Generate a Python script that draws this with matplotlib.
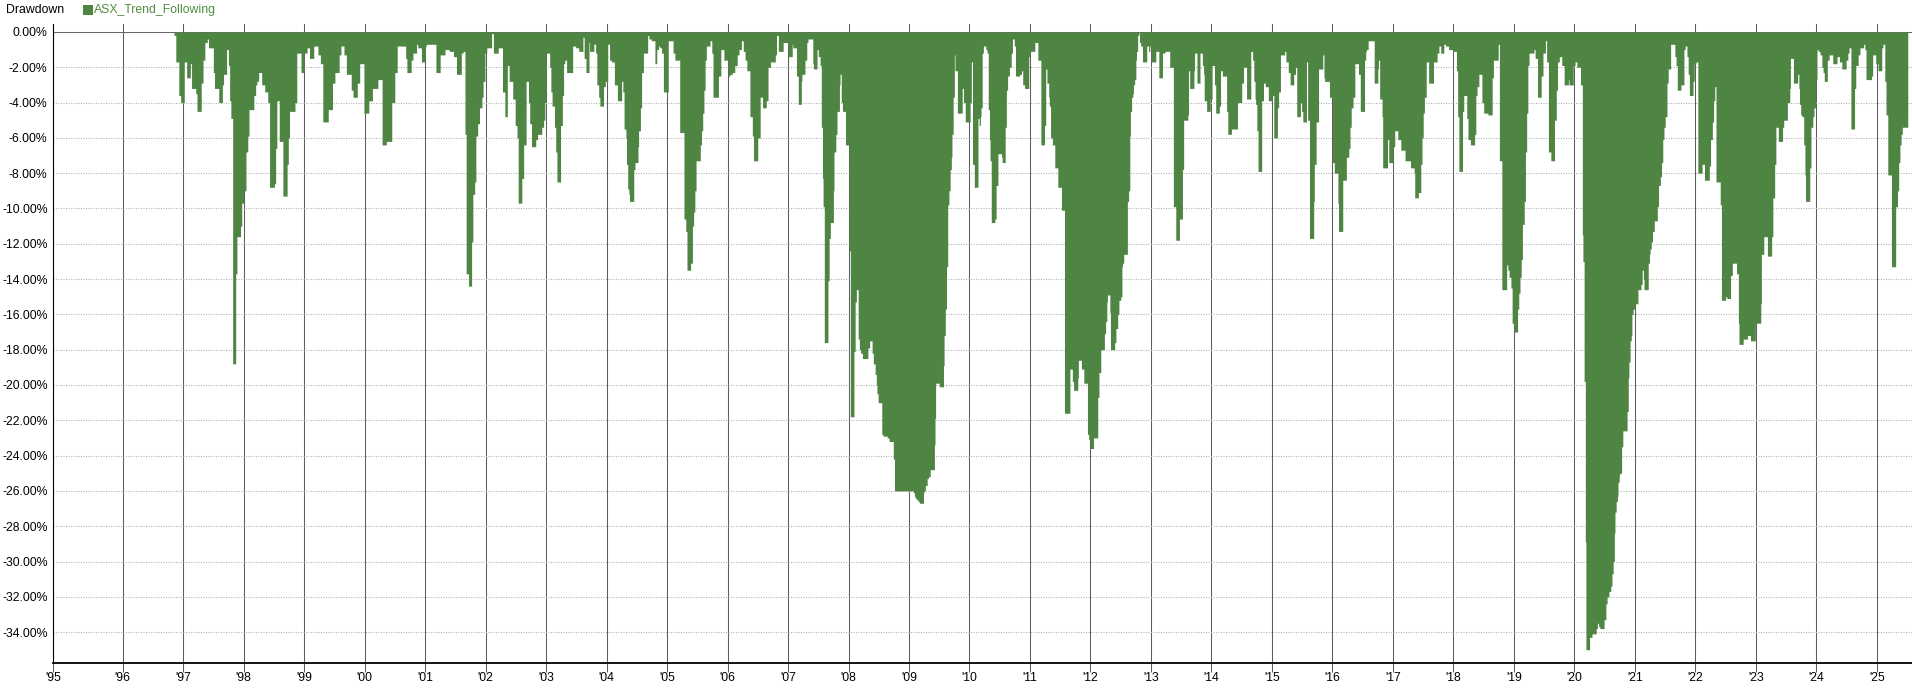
import numpy as np
import matplotlib
matplotlib.use("Agg")
import matplotlib.pyplot as plt
from matplotlib.patches import Rectangle
from matplotlib.ticker import FixedLocator, FuncFormatter

# drawdown of ASX_Trend_Following, step values (start of each step, decimal year)
dd_date = [
    1996.85, 1996.88, 1996.93, 1996.96,
    1997.02, 1997.06, 1997.12, 1997.14, 1997.21, 1997.23, 1997.30, 1997.33, 1997.36, 1997.40, 1997.42, 1997.50, 1997.52,
    1997.59, 1997.65, 1997.67, 1997.72, 1997.75, 1997.77, 1997.79, 1997.82, 1997.87, 1997.89, 1997.95, 1997.97,
    1998.00, 1998.04, 1998.07, 1998.09, 1998.17, 1998.20, 1998.22, 1998.25, 1998.30, 1998.35, 1998.40, 1998.43, 1998.51,
    1998.53, 1998.55, 1998.59, 1998.65, 1998.72, 1998.74, 1998.76, 1998.85, 1998.88, 1998.95,
    1999.00, 1999.05, 1999.09, 1999.16, 1999.23, 1999.27, 1999.31, 1999.40, 1999.47, 1999.51, 1999.58, 1999.61, 1999.66,
    1999.70, 1999.78, 1999.81, 1999.88, 1999.92, 1999.99,
    2000.07, 2000.13, 2000.22, 2000.29, 2000.36, 2000.45, 2000.50, 2000.54, 2000.68, 2000.70, 2000.77, 2000.80, 2000.86,
    2000.88, 2000.94,
    2001.00, 2001.02, 2001.18, 2001.25, 2001.33, 2001.40, 2001.47, 2001.52, 2001.60, 2001.63, 2001.66, 2001.68, 2001.72,
    2001.77, 2001.79, 2001.82, 2001.84, 2001.87, 2001.90, 2001.94, 2001.96, 2001.99,
    2002.02, 2002.10, 2002.13, 2002.21, 2002.28, 2002.32, 2002.36, 2002.39, 2002.45, 2002.49, 2002.52, 2002.54, 2002.60,
    2002.63, 2002.67, 2002.71, 2002.73, 2002.76, 2002.83, 2002.86, 2002.93, 2002.96, 2002.98,
    2003.00, 2003.06, 2003.08, 2003.10, 2003.14, 2003.16, 2003.18, 2003.24, 2003.27, 2003.29, 2003.31, 2003.34, 2003.44,
    2003.49, 2003.54, 2003.61, 2003.63, 2003.66, 2003.71, 2003.72, 2003.79, 2003.82, 2003.84, 2003.87, 2003.89, 2003.95,
    2003.98,
    2004.02, 2004.05, 2004.08, 2004.13, 2004.18, 2004.25, 2004.27, 2004.29, 2004.32, 2004.33, 2004.35, 2004.37, 2004.38,
    2004.45, 2004.47, 2004.52, 2004.53, 2004.56, 2004.58, 2004.61, 2004.68, 2004.70, 2004.74, 2004.80, 2004.83, 2004.86,
    2004.88, 2004.91, 2004.94,
    2005.02, 2005.10, 2005.13, 2005.21, 2005.28, 2005.31, 2005.33, 2005.39, 2005.42, 2005.44, 2005.46, 2005.48, 2005.55,
    2005.57, 2005.59, 2005.61, 2005.63, 2005.65, 2005.71, 2005.74, 2005.76, 2005.85, 2005.89, 2005.94,
    2006.01, 2006.04, 2006.08, 2006.12, 2006.16, 2006.19, 2006.23, 2006.26, 2006.29, 2006.32, 2006.37, 2006.41, 2006.43,
    2006.50, 2006.54, 2006.58, 2006.64, 2006.67, 2006.71, 2006.79, 2006.81, 2006.84, 2006.92,
    2007.00, 2007.07, 2007.08, 2007.14, 2007.17, 2007.22, 2007.23, 2007.28, 2007.31, 2007.33, 2007.41, 2007.42, 2007.48,
    2007.50, 2007.53, 2007.55, 2007.57, 2007.58, 2007.60, 2007.66, 2007.68, 2007.70, 2007.75, 2007.76, 2007.79, 2007.81,
    2007.85, 2007.86, 2007.88, 2007.90, 2007.95,
    2008.01, 2008.03, 2008.09, 2008.11, 2008.13, 2008.16, 2008.18, 2008.20, 2008.23, 2008.32, 2008.35, 2008.39, 2008.41,
    2008.44, 2008.46, 2008.47, 2008.49, 2008.55, 2008.57, 2008.64, 2008.67, 2008.74, 2008.76,
    2009.07, 2009.09, 2009.10, 2009.12, 2009.15, 2009.17, 2009.24, 2009.25, 2009.27, 2009.30, 2009.32, 2009.35, 2009.42,
    2009.43, 2009.44, 2009.50, 2009.57, 2009.58, 2009.60, 2009.62, 2009.64, 2009.66, 2009.68, 2009.70, 2009.71, 2009.73,
    2009.75, 2009.76, 2009.80, 2009.88, 2009.90, 2009.93,
    2010.01, 2010.03, 2010.05, 2010.08, 2010.14, 2010.16, 2010.18, 2010.19, 2010.21, 2010.23, 2010.27, 2010.29, 2010.31,
    2010.33, 2010.34, 2010.36, 2010.42, 2010.44, 2010.47, 2010.53, 2010.54, 2010.59, 2010.61, 2010.63, 2010.66, 2010.69,
    2010.71, 2010.74, 2010.76, 2010.83, 2010.86, 2010.88, 2010.91, 2010.98,
    2011.00, 2011.08, 2011.13, 2011.18, 2011.24, 2011.26, 2011.28, 2011.31, 2011.32, 2011.34, 2011.37, 2011.41, 2011.46,
    2011.52, 2011.57, 2011.66, 2011.70, 2011.72, 2011.79, 2011.80, 2011.85, 2011.89, 2011.95, 2011.97, 2011.99,
    2012.05, 2012.12, 2012.14, 2012.17, 2012.23, 2012.25, 2012.27, 2012.28, 2012.32, 2012.33, 2012.40, 2012.42, 2012.45,
    2012.47, 2012.50, 2012.52, 2012.53, 2012.55, 2012.61, 2012.63, 2012.65, 2012.66, 2012.68, 2012.70, 2012.71, 2012.73,
    2012.75, 2012.76, 2012.78, 2012.80, 2012.81, 2012.83, 2012.86, 2012.93, 2012.96, 2012.98,
    2013.00, 2013.08, 2013.13, 2013.19, 2013.23, 2013.31, 2013.37, 2013.41, 2013.47, 2013.52, 2013.54, 2013.61, 2013.62,
    2013.64, 2013.71, 2013.72, 2013.76, 2013.81, 2013.85, 2013.87, 2013.88, 2013.92, 2013.98,
    2014.01, 2014.05, 2014.07, 2014.13, 2014.15, 2014.18, 2014.25, 2014.27, 2014.33, 2014.43, 2014.50, 2014.53, 2014.58,
    2014.65, 2014.68, 2014.70, 2014.72, 2014.73, 2014.75, 2014.77, 2014.83, 2014.86, 2014.89, 2014.94,
    2015.00, 2015.03, 2015.09, 2015.11, 2015.14, 2015.21, 2015.23, 2015.27, 2015.30, 2015.36, 2015.39, 2015.41, 2015.47,
    2015.49, 2015.51, 2015.57, 2015.59, 2015.62, 2015.69, 2015.70, 2015.73, 2015.77, 2015.84, 2015.86, 2015.87, 2015.95,
    2016.00, 2016.03, 2016.09, 2016.10, 2016.17, 2016.23, 2016.27, 2016.29, 2016.31, 2016.34, 2016.37, 2016.43, 2016.46,
    2016.53, 2016.55, 2016.56, 2016.59, 2016.69, 2016.75, 2016.76, 2016.78, 2016.82, 2016.83, 2016.91, 2016.93,
    2017.00, 2017.03, 2017.08, 2017.13, 2017.20, 2017.29, 2017.35, 2017.36, 2017.42, 2017.46, 2017.48, 2017.50, 2017.52,
    2017.55, 2017.59, 2017.67, 2017.73, 2017.76, 2017.79, 2017.84, 2017.87, 2017.92, 2017.99,
    2018.05, 2018.07, 2018.09, 2018.15, 2018.17, 2018.22, 2018.24, 2018.28, 2018.35, 2018.37, 2018.39, 2018.42, 2018.47,
    2018.50, 2018.57, 2018.64, 2018.66, 2018.74, 2018.76, 2018.80, 2018.88, 2018.90, 2018.92, 2018.95, 2018.97,
    2019.00, 2019.06, 2019.08, 2019.10, 2019.12, 2019.14, 2019.17, 2019.19, 2019.21, 2019.23, 2019.25, 2019.33, 2019.35,
    2019.39, 2019.45, 2019.48, 2019.52, 2019.54, 2019.57, 2019.61, 2019.67, 2019.70, 2019.72, 2019.75, 2019.79, 2019.83,
    2019.90, 2019.91, 2019.98,
    2020.01, 2020.04, 2020.10, 2020.13, 2020.14, 2020.16, 2020.18, 2020.19, 2020.25, 2020.29, 2020.36, 2020.38, 2020.40,
    2020.42, 2020.49, 2020.52, 2020.54, 2020.57, 2020.60, 2020.62, 2020.64, 2020.66, 2020.67, 2020.69, 2020.71, 2020.72,
    2020.74, 2020.75, 2020.78, 2020.80, 2020.87, 2020.89, 2020.90, 2020.92, 2020.94, 2020.95, 2020.97,
    2021.00, 2021.05, 2021.10, 2021.12, 2021.14, 2021.15, 2021.22, 2021.24, 2021.25, 2021.27, 2021.29, 2021.32, 2021.37,
    2021.39, 2021.42, 2021.44, 2021.46, 2021.48, 2021.50, 2021.53, 2021.55, 2021.59, 2021.66, 2021.68, 2021.70, 2021.76,
    2021.81, 2021.83, 2021.86, 2021.88, 2021.90, 2021.96, 2021.98,
    2022.01, 2022.04, 2022.11, 2022.15, 2022.23, 2022.25, 2022.28, 2022.30, 2022.32, 2022.34, 2022.41, 2022.43, 2022.50,
    2022.52, 2022.58, 2022.61, 2022.68, 2022.71, 2022.72, 2022.79, 2022.86, 2022.91, 2022.99,
    2023.08, 2023.09, 2023.13, 2023.19, 2023.26, 2023.28, 2023.31, 2023.33, 2023.37, 2023.44, 2023.46, 2023.52, 2023.56,
    2023.57, 2023.62, 2023.69, 2023.71, 2023.72, 2023.74, 2023.76, 2023.79, 2023.81, 2023.82, 2023.89, 2023.91, 2023.94,
    2023.96, 2023.99,
    2024.01, 2024.03, 2024.06, 2024.09, 2024.11, 2024.13, 2024.18, 2024.21, 2024.27, 2024.34, 2024.38, 2024.42, 2024.49,
    2024.52, 2024.54, 2024.57, 2024.63, 2024.65, 2024.69, 2024.72, 2024.78, 2024.80, 2024.82, 2024.91, 2024.93, 2024.98,
    2025.02, 2025.08, 2025.10, 2025.13, 2025.15, 2025.18, 2025.24, 2025.31, 2025.34, 2025.36, 2025.38, 2025.40, 2025.42,
]
dd_end = 2025.51

dd_pct = [
    -0.2, -1.7, -3.6, -4.0,
    -1.7, -2.6, -1.8, -3.2, -3.5, -4.5, -2.9, -1.6, -0.6, -0.4, -0.9, -2.3, -3.2,
    -4.0, -3.0, -2.4, -1.0, -1.9, -3.9, -4.9, -18.8, -13.7, -11.6, -11.0, -9.7,
    -9.0, -6.8, -5.9, -4.4, -3.6, -3.0, -2.8, -2.3, -3.0, -3.4, -4.0, -8.8, -8.6,
    -6.6, -3.9, -6.2, -9.3, -7.5, -6.0, -4.5, -4.0, -1.2, -2.3,
    -1.2, -0.9, -1.5, -0.8, -1.3, -1.8, -5.1, -4.4, -2.9, -2.3, -1.3, -0.8, -1.3,
    -2.4, -3.3, -3.7, -2.9, -1.8, -4.6,
    -3.9, -3.2, -2.7, -6.4, -6.2, -4.0, -2.3, -0.8, -1.5, -2.3, -1.6, -1.2, -0.7,
    -0.9, -1.7,
    -0.8, -0.7, -2.3, -1.3, -1.0, -1.1, -1.4, -2.4, -1.2, -1.1, -5.8, -13.7, -14.4,
    -11.9, -9.2, -8.5, -5.9, -5.2, -4.3, -3.7, -2.8, -1.2,
    -0.9, -0.1, -1.2, -0.9, -3.4, -4.8, -1.9, -2.8, -3.8, -5.3, -6.0, -9.7, -8.3,
    -6.4, -2.8, -4.0, -5.2, -6.5, -6.1, -5.8, -5.4, -5.0, -4.0,
    -1.2, -2.0, -3.4, -4.2, -5.4, -6.8, -8.5, -5.3, -3.6, -1.8, -1.6, -2.3, -0.8,
    -0.9, -1.1, -0.3, -1.5, -2.3, -0.6, -1.1, -0.7, -1.2, -3.0, -3.7, -4.2, -3.1,
    -2.8,
    -0.7, -1.6, -1.7, -3.0, -3.9, -2.8, -3.4, -5.5, -6.0, -7.5, -8.9, -9.2, -9.6,
    -7.8, -7.4, -6.5, -5.6, -4.3, -2.3, -1.2, -0.2, -0.4, -0.5, -1.8, -1.0, -0.8,
    -0.9, -1.2, -3.4,
    -0.5, -1.2, -1.6, -5.7, -10.6, -11.3, -13.5, -13.1, -11.0, -10.2, -9.0, -7.3, -6.4,
    -5.6, -4.6, -3.3, -1.6, -0.8, -0.5, -1.2, -3.7, -2.5, -1.0, -1.6,
    -2.5, -2.4, -2.3, -1.9, -1.3, -1.0, -0.5, -1.1, -1.6, -2.2, -4.8, -5.9, -7.3,
    -6.0, -3.7, -4.3, -3.9, -2.0, -1.7, -1.3, -0.2, -1.1, -0.6,
    -1.4, -0.7, -0.9, -2.5, -4.1, -2.8, -2.4, -1.6, -0.6, -0.4, -1.8, -2.1, -1.0,
    -1.4, -1.9, -5.4, -8.3, -9.9, -17.6, -14.1, -11.7, -10.8, -9.0, -6.8, -5.8, -4.5,
    -3.0, -2.4, -4.0, -4.5, -6.4,
    -12.4, -21.8, -18.1, -15.3, -14.6, -17.4, -18.0, -18.2, -18.5, -17.9, -17.5, -18.2, -18.8,
    -19.4, -20.0, -20.5, -21.0, -22.8, -22.9, -23.0, -23.2, -24.2, -26.0,
    -26.1, -26.3, -26.4, -26.5, -26.6, -26.7, -26.1, -26.0, -25.7, -25.3, -25.2, -24.8, -23.4,
    -21.9, -19.9, -20.1, -18.9, -17.2, -15.7, -13.3, -9.8, -9.0, -7.8, -7.1, -5.8, -3.7,
    -1.3, -2.2, -4.6, -3.2, -4.0, -5.1,
    -4.0, -1.7, -7.5, -8.8, -4.9, -5.3, -4.8, -4.3, -1.2, -0.8, -1.0, -1.2, -4.4,
    -6.1, -7.3, -10.8, -10.6, -8.7, -6.9, -7.1, -7.4, -5.4, -3.3, -2.5, -2.0, -1.2,
    -0.4, -0.8, -2.5, -2.4, -2.2, -3.0, -3.2, -1.4,
    -1.1, -0.6, -1.6, -6.4, -5.3, -2.1, -2.9, -3.7, -4.2, -6.0, -6.4, -7.7, -8.8,
    -10.1, -21.6, -19.1, -19.8, -20.3, -19.6, -18.6, -19.1, -19.9, -22.8, -23.1, -23.6,
    -23.0, -20.7, -19.3, -18.0, -17.1, -16.4, -15.3, -14.9, -15.9, -18.0, -17.6, -16.8, -16.0,
    -15.2, -15.0, -13.3, -13.1, -12.6, -9.6, -9.0, -5.9, -4.5, -3.7, -3.5, -3.0, -2.7,
    -1.6, -1.1, -0.2, 0.0, -0.6, -0.8, -1.7, -0.8, -1.1, -0.8,
    -1.7, -1.1, -2.6, -1.2, -1.1, -2.0, -9.9, -11.8, -10.6, -7.8, -5.0, -4.7, -2.2,
    -3.2, -2.2, -1.2, -2.9, -1.2, -1.9, -2.4, -3.9, -4.5, -3.8,
    -1.9, -3.0, -4.6, -4.2, -2.2, -2.5, -4.5, -5.8, -5.5, -4.0, -2.9, -2.0, -3.8,
    -1.1, -1.6, -2.8, -3.8, -4.1, -5.6, -7.9, -3.9, -2.9, -3.1, -3.9,
    -3.6, -6.0, -4.3, -3.4, -1.3, -1.1, -1.7, -2.3, -3.0, -2.4, -2.0, -4.8, -4.0,
    -4.5, -5.1, -1.7, -5.0, -11.7, -9.6, -7.5, -5.1, -2.1, -1.3, -2.6, -2.8, -3.7,
    -7.4, -8.0, -9.7, -11.3, -8.4, -7.1, -6.6, -5.4, -4.3, -3.7, -1.8, -2.4, -4.5,
    -1.6, -1.1, -1.0, -0.5, -2.9, -2.1, -1.6, -3.8, -4.8, -7.7, -6.1, -7.4,
    -6.5, -5.6, -6.1, -6.7, -7.3, -7.7, -8.0, -9.4, -9.1, -7.5, -6.0, -4.6, -3.7,
    -1.7, -2.9, -1.7, -1.2, -0.8, -1.2, -0.7, -0.8, -1.0, -1.1,
    -2.2, -4.8, -7.9, -4.5, -3.6, -4.9, -6.1, -6.4, -5.8, -3.6, -3.1, -2.4, -4.0,
    -4.6, -4.7, -2.6, -1.6, -0.7, -7.3, -14.6, -13.2, -13.5, -13.9, -14.5, -16.5,
    -17.0, -15.7, -14.8, -13.9, -12.9, -10.9, -9.6, -6.8, -4.6, -1.9, -1.2, -1.0, -1.5,
    -3.7, -2.5, -1.2, -0.5, -1.7, -6.8, -7.3, -5.0, -3.3, -1.7, -1.4, -1.9, -3.0,
    -2.7, -3.0, -1.9,
    -1.7, -2.0, -3.0, -11.5, -13.0, -19.8, -28.9, -35.0, -34.3, -34.1, -33.8, -33.5, -33.7,
    -33.8, -33.3, -32.4, -32.0, -31.7, -31.4, -30.7, -30.0, -28.4, -27.2, -26.6, -26.3, -25.5,
    -25.1, -25.0, -23.5, -22.6, -21.5, -19.6, -18.7, -17.5, -17.2, -16.0, -15.7,
    -15.4, -14.6, -14.3, -13.5, -14.0, -14.6, -13.1, -12.6, -12.3, -11.9, -11.3, -10.7, -9.9,
    -8.7, -8.2, -7.4, -6.1, -5.4, -4.8, -2.9, -2.1, -0.7, -1.4, -1.9, -3.3, -3.0,
    -1.0, -0.8, -1.4, -2.4, -3.6, -2.8, -1.8,
    -1.7, -8.0, -7.5, -8.4, -7.6, -6.1, -5.1, -3.9, -3.1, -8.5, -9.8, -15.2, -15.0,
    -15.1, -13.8, -13.1, -13.7, -16.5, -17.7, -17.4, -17.2, -17.5, -16.5,
    -15.4, -12.6, -11.6, -12.7, -11.6, -9.4, -7.5, -5.4, -6.2, -5.4, -5.0, -4.0, -3.2,
    -1.5, -2.9, -2.4, -3.2, -4.1, -4.7, -4.8, -6.4, -8.1, -9.6, -7.7, -5.4, -4.8,
    -4.3, -2.7,
    -1.0, -1.1, -1.3, -2.0, -2.3, -2.8, -1.6, -1.3, -1.8, -1.4, -1.7, -2.1, -1.6,
    -1.2, -0.9, -5.5, -3.2, -1.9, -1.3, -0.9, -0.7, -1.0, -2.7, -2.5, -1.3, -1.8,
    -2.2, -0.9, -0.7, -2.8, -4.7, -8.1, -13.3, -9.9, -9.0, -7.4, -6.4, -5.8, -5.4,
]

year_labels = ["'95", "'96", "'97", "'98", "'99", "'00", "'01", "'02", "'03", "'04", "'05",
               "'06", "'07", "'08", "'09", "'10", "'11", "'12", "'13", "'14", "'15", "'16",
               "'17", "'18", "'19", "'20", "'21", "'22", "'23", "'24", "'25"]
y_ticks = np.arange(0, -35, -2)

assert len(dd_date) == len(dd_pct), (len(dd_date), len(dd_pct))

green = "#4e8542"
plt.rcParams['font.family'] = ['Liberation Sans', 'DejaVu Sans']

W, H = 1912, 693
fig = plt.figure(figsize=(W / 100, H / 100), dpi=100)
ax = fig.add_axes([53 / W, 1 - 663 / H, (W - 53) / W, (663 - 24) / H])

x = np.append(dd_date, dd_end)
y = np.append(dd_pct, dd_pct[-1])
ax.fill_between(x, y, 0, step='post', color=green, linewidth=0, zorder=3)

x_min, x_max = 1994.85, 2025.58
ax.set_xlim(x_min, x_max)
ax.set_ylim(-35.75, 0.45)

# first label sits on the left edge of the axis
xt = [x_min] + list(range(1996, 2026))
ax.xaxis.set_major_locator(FixedLocator(xt))
ax.set_xticklabels(year_labels)
ax.yaxis.set_major_locator(FixedLocator(y_ticks))
ax.yaxis.set_major_formatter(FuncFormatter(lambda v, p: "%.2f%%" % (0 if v == 0 else v)))

ax.set_axisbelow(True)
ax.xaxis.grid(True, color="#5e5e5e", linewidth=0.75)
ax.yaxis.grid(True, color="#b0b0b0", linewidth=0.75, linestyle=(0, (1.0, 1.4)))
ax.axhline(0, color="#666666", linewidth=0.75, zorder=1)

for s in ["top", "right"]:
    ax.spines[s].set_visible(False)
ax.spines["left"].set_color("black")
ax.spines["left"].set_linewidth(0.8)
ax.spines["bottom"].set_color("black")
ax.spines["bottom"].set_linewidth(1.3)
ax.spines["bottom"].set_zorder(4)

ax.tick_params(axis="x", direction="out", length=6.5, width=0.75, color="#5e5e5e",
               labelsize=8.8, pad=0, labelcolor="black")
ax.tick_params(axis="y", length=0, pad=3.8, labelsize=8.8, labelcolor="black")

# legend strip at the top
fig.text(6 / W, 1 - 13.3 / H, "Drawdown", fontsize=8.8, ha="left", va="baseline", color="black")
fig.patches.append(Rectangle((83.3 / W, 1 - 14.7 / H), 10 / W, 10 / H,
                             transform=fig.transFigure, color=green, linewidth=0))
fig.text(94.3 / W, 1 - 13.3 / H, "ASX_Trend_Following", fontsize=8.8, ha="left",
         va="baseline", color="#4f8c42")

fig.savefig("out.png", dpi=100)
